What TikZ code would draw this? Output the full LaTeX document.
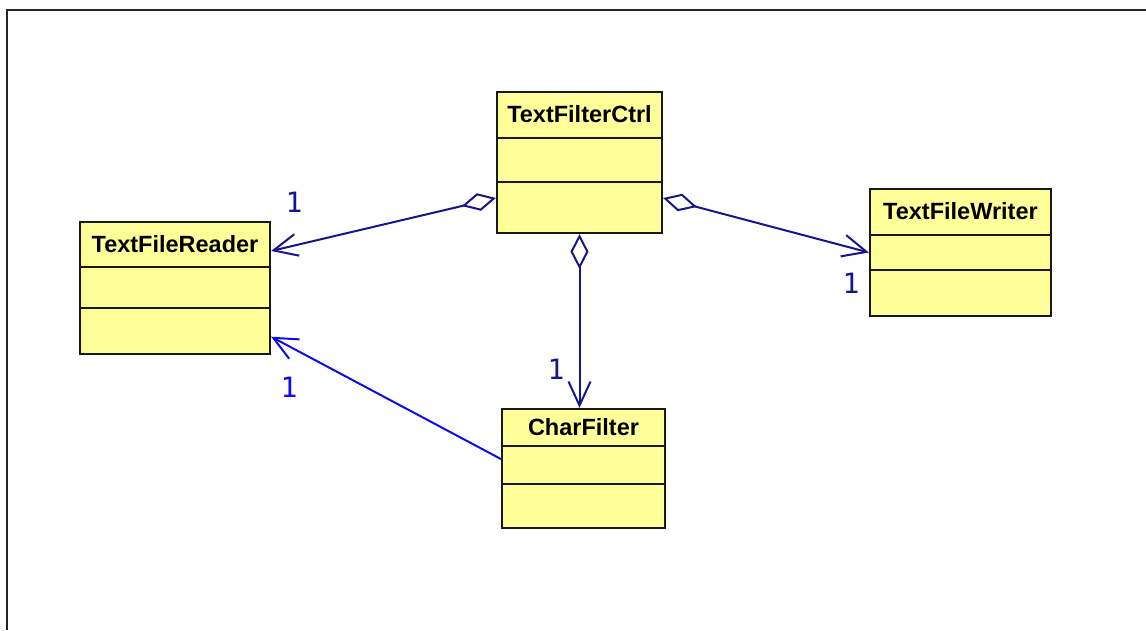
\documentclass[tikz,border=0pt]{standalone}
\usepackage{fontspec}
\setmainfont{Liberation Sans}
\newfontfamily\multfont{DejaVu Sans Mono}
\usepackage{tikz}
\usetikzlibrary{arrows.meta}
\definecolor{umlyellow}{RGB}{255,255,153}
\definecolor{assocnavy}{RGB}{22,22,140}
\definecolor{assocblue}{RGB}{12,12,240}

\begin{document}
\begin{tikzpicture}[
      x=1pt, y=-1pt,
      classbox/.style={draw=black!90, line width=2.2pt, fill=umlyellow, inner sep=0pt},
      classname/.style={font=\fontsize{23.5}{28}\selectfont\bfseries, inner sep=0pt},
      divider/.style={line width=1.8pt, draw=black!90},
      aggr/.style={{Diamond[open, length=35pt, width=18pt]}-{Straight Barb[length=24pt, width=22pt]}, line width=2pt, assocnavy},
      assoc/.style={-{Straight Barb[length=24pt, width=22pt]}, line width=2pt, assocblue},
      mult/.style={font=\multfont\fontsize{28}{30}\selectfont, inner sep=0pt}
  ]
  \useasboundingbox (0,0) rectangle (1146,630);
  \draw[line width=2.5pt, black!85] (7,630) -- (7,10) -- (1146,10);

  % Nodes ------------------------------------------------
  \node[classbox, minimum width=165pt, minimum height=141pt] (ctrl)   at (579.5,162.5) {};
  \node[classbox, minimum width=190pt, minimum height=132pt] (reader) at (175,288) {};
  \node[classbox, minimum width=181pt, minimum height=127pt] (writer) at (960.5,252.5) {};
  \node[classbox, minimum width=163pt, minimum height=119pt] (charf)  at (583.5,468.5) {};

  \node[classname] (ctrl name)   at ([yshift=-23.5pt]ctrl.north)   {TextFilterCtrl};
  \node[classname] (reader name) at ([yshift=-23pt]reader.north)   {TextFileReader};
  \node[classname] (writer name) at ([yshift=-23.5pt]writer.north) {TextFileWriter};
  \node[classname] (charf name)  at ([yshift=-19pt]charf.north)    {CharFilter};

  % Compartments
  \draw[divider] ([yshift=-47pt]ctrl.north west) -- ([yshift=-47pt]ctrl.north east);
  \draw[divider] ([yshift=-91pt]ctrl.north west) -- ([yshift=-91pt]ctrl.north east);
  \draw[divider] ([yshift=-46pt]reader.north west) -- ([yshift=-46pt]reader.north east);
  \draw[divider] ([yshift=-87pt]reader.north west) -- ([yshift=-87pt]reader.north east);
  \draw[divider] ([yshift=-47pt]writer.north west) -- ([yshift=-47pt]writer.north east);
  \draw[divider] ([yshift=-82pt]writer.north west) -- ([yshift=-82pt]writer.north east);
  \draw[divider] ([yshift=-38pt]charf.north west) -- ([yshift=-38pt]charf.north east);
  \draw[divider] ([yshift=-76pt]charf.north west) -- ([yshift=-76pt]charf.north east);

  % Arrows ------------------------------------------------
  \draw[aggr] ([yshift=-35.5pt]ctrl.west) -- ([yshift=37pt]reader.east);
  \draw[aggr] ([yshift=-35.5pt]ctrl.east) -- (writer.west);
  \draw[aggr] (ctrl.south) -- (ctrl.south |- charf.north);
  \draw[assoc] ([yshift=9.5pt]charf.west) -- ([yshift=-48.7pt]reader.east);

  % Multiplicities
  \node[mult, text=assocnavy] (reader mult) at (294,202) {1};
  \node[mult, text=assocnavy] (writer mult) at (851,283) {1};
  \node[mult, text=assocnavy] (charf mult)  at (556,369) {1};
  \node[mult, text=assocblue] (back mult)   at (289,387) {1};
\end{tikzpicture}
\end{document}
